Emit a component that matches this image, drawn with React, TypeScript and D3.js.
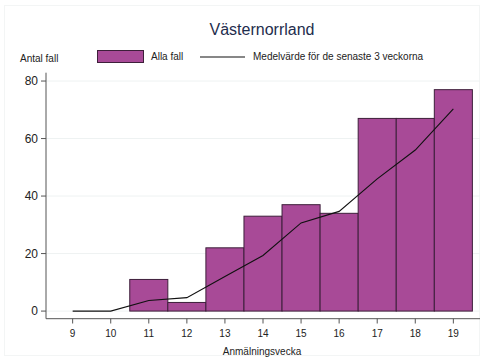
import React from "react";
import * as d3 from "d3";

const weeks = [9, 10, 11, 12, 13, 14, 15, 16, 17, 18, 19];
const cases = [0, 0, 11, 3, 22, 33, 37, 34, 67, 67, 77];
const avg3 = [0, 0, 3.67, 4.67, 12, 19.33, 30.67, 34.67, 46, 56, 70.33];
const yTicks = [0, 20, 40, 60, 80];
const title = "Västernorrland";
const yLabel = "Antal fall";
const xLabel = "Anmälningsvecka";
const legendBar = "Alla fall";
const legendLine = "Medelvärde för de senaste 3 veckorna";

const W = 484;
const H = 360;
const FONT = "Arial, 'Liberation Sans', sans-serif";

export default function App() {
  const x = d3.scaleLinear().domain([8.3, 19.7]).range([46, 480]);
  const y = d3.scaleLinear().domain([-2.65, 82.9]).range([318.7, 72.7]);
  const bw = x(1) - x(0);
  const line = d3
    .line<number>()
    .x((_, i) => x(weeks[i]))
    .y((d) => y(d));
  const fill = "#a84a97";
  const stroke = "#3d1f3a";
  return (
    <svg
      width={W}
      height={H}
      style={{ position: "absolute", left: 0, top: 0, background: "#fff" }}
      fontFamily={FONT}
    >
      <rect x={4.5} y={5.5} width={475} height={350} fill="none" stroke="#f3f5f5" />
      {yTicks.map((t) => (
        <line key={"g" + t} x1={46} x2={480} y1={y(t)} y2={y(t)} stroke="#eef2f2" strokeWidth={1} />
      ))}
      {weeks.map((w, i) =>
        cases[i] > 0 ? (
          <rect
            key={"b" + w}
            x={x(w) - bw / 2}
            y={y(cases[i])}
            width={bw}
            height={y(0) - y(cases[i])}
            fill={fill}
            stroke={stroke}
            strokeWidth={1}
          />
        ) : null
      )}
      <path d={line(avg3) || ""} fill="none" stroke="#111" strokeWidth={1.1} />
      {/* axes */}
      <line x1={46} x2={46} y1={72.7} y2={318.7} stroke="#555" strokeWidth={1} />
      <line x1={46} x2={480} y1={318.7} y2={318.7} stroke="#555" strokeWidth={1} />
      {yTicks.map((t) => (
        <g key={"yt" + t}>
          <line x1={41} x2={46} y1={y(t)} y2={y(t)} stroke="#555" />
          <text x={38} y={y(t)} dy="0.35em" textAnchor="end" fontSize={12} fill="#222">
            {t}
          </text>
        </g>
      ))}
      {weeks.map((w) => (
        <g key={"xt" + w}>
          <line x1={x(w)} x2={x(w)} y1={318.7} y2={323.5} stroke="#555" />
          <text x={x(w)} y={337} textAnchor="middle" fontSize={10} fill="#222">
            {w}
          </text>
        </g>
      ))}
      <text x={262} y={355} textAnchor="middle" fontSize={10} fill="#222">
        {xLabel}
      </text>
      <text x={20} y={62} fontSize={10} fill="#222">
        {yLabel}
      </text>
      <text x={262} y={35} textAnchor="middle" fontSize={16} fill="#1e2d4d">
        {title}
      </text>
      {/* legend */}
      <rect x={97.5} y={50.5} width={46} height={12} fill={fill} stroke={stroke} strokeWidth={1} />
      <text x={151} y={60} fontSize={10} fill="#222">
        {legendBar}
      </text>
      <line x1={200} x2={245} y1={57} y2={57} stroke="#111" strokeWidth={1.1} />
      <text x={253} y={60} fontSize={10} fill="#222">
        {legendLine}
      </text>
    </svg>
  );
}
